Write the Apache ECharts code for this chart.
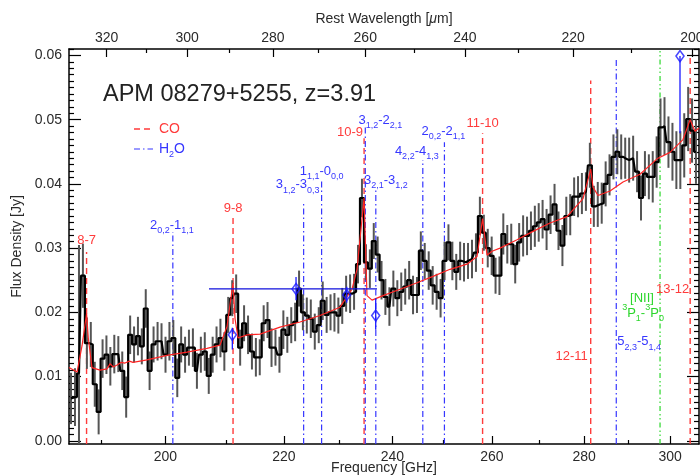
<!DOCTYPE html>
<html>
<head>
<meta charset="utf-8">
<script src="https://cdn.jsdelivr.net/npm/echarts@6/dist/echarts.min.js"></script>
<style>
  html, body { margin: 0; padding: 0; background: #fff; }
  #chart { width: 700px; height: 475px; }
</style>
</head>
<body>
<div id="chart"></div>
<script>
// ---- data ----
// channel frequencies [GHz]
var freq = [
  185.41, 186.00, 186.60, 187.19, 187.79, 188.38, 188.98, 189.57, 190.17, 190.76,
  191.36, 191.97, 192.59, 193.20, 193.81, 194.43, 195.04, 195.65, 196.26, 196.88,
  197.49, 198.12, 198.76, 199.39, 200.03, 200.66, 201.29, 201.93, 202.56, 203.20,
  203.83, 204.48, 205.14, 205.79, 206.44, 207.10, 207.75, 208.40, 209.05, 209.71,
  210.36, 211.04, 211.71, 212.39, 213.06, 213.74, 214.41, 215.09, 215.76, 216.44,
  217.11, 217.81, 218.50, 219.20, 219.89, 220.59, 221.29, 221.98, 222.68, 223.37,
  224.07, 224.79, 225.51, 226.23, 226.95, 227.67, 228.38, 229.10, 229.82, 230.54,
  231.26, 232.00, 232.74, 233.48, 234.22, 234.97, 235.71, 236.45, 237.19, 237.93,
  238.67, 239.44, 240.20, 240.97, 241.73, 242.50, 243.27, 244.03, 244.80, 245.56,
  246.33, 247.12, 247.91, 248.70, 249.49, 250.28, 251.07, 251.86, 252.65, 253.44,
  254.23, 255.05, 255.86, 256.68, 257.49, 258.31, 259.12, 259.94, 260.75, 261.57,
  262.38, 263.22, 264.06, 264.90, 265.74, 266.59, 267.43, 268.27, 269.11, 269.95,
  270.79, 271.66, 272.53, 273.40, 274.27, 275.14, 276.00, 276.87, 277.74, 278.61,
  279.48, 280.38, 281.27, 282.17, 283.06, 283.96, 284.86, 285.75, 286.65, 287.54,
  288.44, 289.37, 290.29, 291.22, 292.14, 293.07, 293.99, 294.92, 295.84, 296.77,
  297.69, 298.65, 299.60, 300.56, 301.51, 302.47, 303.42, 304.38, 305.33, 306.29
];
// flux density [Jy]
var flux = [
  0.0066, 0.0068, 0.0105, 0.0257, 0.0152, 0.0150, 0.0088, 0.0045, 0.0128, 0.0134,
  0.0116, 0.0135, 0.0135, 0.0109, 0.0068, 0.0165, 0.0150, 0.0163, 0.0147, 0.0206,
  0.0109, 0.0150, 0.0155, 0.0155, 0.0134, 0.0155, 0.0160, 0.0098, 0.0150, 0.0134,
  0.0145, 0.0145, 0.0109, 0.0134, 0.0139, 0.0101, 0.0134, 0.0150, 0.0160, 0.0139,
  0.0196, 0.0222, 0.0229, 0.0145, 0.0183, 0.0165, 0.0139, 0.0130, 0.0130, 0.0183,
  0.0188, 0.0145, 0.0145, 0.0134, 0.0173, 0.0165, 0.0180, 0.0185, 0.0237, 0.0200,
  0.0195, 0.0190, 0.0170, 0.0180, 0.0218, 0.0196, 0.0200, 0.0200, 0.0195, 0.0210,
  0.0229, 0.0229, 0.0232, 0.0275, 0.0378, 0.0278, 0.0268, 0.0311, 0.0290, 0.0250,
  0.0224, 0.0209, 0.0237, 0.0222, 0.0232, 0.0240, 0.0250, 0.0227, 0.0227, 0.0296,
  0.0280, 0.0265, 0.0242, 0.0232, 0.0222, 0.0280, 0.0309, 0.0280, 0.0263, 0.0280,
  0.0278, 0.0280, 0.0283, 0.0293, 0.0350, 0.0324, 0.0300, 0.0288, 0.0257, 0.0257,
  0.0322, 0.0306, 0.0306, 0.0275, 0.0309, 0.0319, 0.0319, 0.0327, 0.0334, 0.0340,
  0.0345, 0.0329, 0.0352, 0.0368, 0.0327, 0.0304, 0.0350, 0.0352, 0.0380, 0.0380,
  0.0385, 0.0388, 0.0429, 0.0365, 0.0368, 0.0370, 0.0400, 0.0414, 0.0442, 0.0450,
  0.0442, 0.0440, 0.0437, 0.0440, 0.0419, 0.0378, 0.0416, 0.0411, 0.0411, 0.0434,
  0.0488, 0.0490, 0.0465, 0.0450, 0.0437, 0.0437, 0.0460, 0.0501, 0.0483, 0.0450
];
// 1-sigma errors [Jy]
var fluxErr = [
  0.0040, 0.0045, 0.0200, 0.0050, 0.0040, 0.0035, 0.0035, 0.0035, 0.0030, 0.0030,
  0.0030, 0.0030, 0.0028, 0.0030, 0.0032, 0.0030, 0.0028, 0.0030, 0.0028, 0.0030,
  0.0030, 0.0028, 0.0030, 0.0028, 0.0028, 0.0030, 0.0028, 0.0030, 0.0028, 0.0028,
  0.0028, 0.0030, 0.0028, 0.0028, 0.0030, 0.0028, 0.0028, 0.0028, 0.0030, 0.0030,
  0.0028, 0.0028, 0.0030, 0.0028, 0.0028, 0.0030, 0.0028, 0.0030, 0.0028, 0.0028,
  0.0028, 0.0030, 0.0028, 0.0028, 0.0030, 0.0028, 0.0028, 0.0030, 0.0028, 0.0028,
  0.0028, 0.0030, 0.0028, 0.0028, 0.0030, 0.0028, 0.0028, 0.0030, 0.0028, 0.0028,
  0.0028, 0.0030, 0.0028, 0.0030, 0.0030, 0.0028, 0.0030, 0.0028, 0.0028, 0.0030,
  0.0028, 0.0030, 0.0028, 0.0028, 0.0030, 0.0028, 0.0030, 0.0030, 0.0028, 0.0030,
  0.0028, 0.0030, 0.0030, 0.0028, 0.0030, 0.0030, 0.0028, 0.0030, 0.0028, 0.0030,
  0.0030, 0.0028, 0.0030, 0.0030, 0.0030, 0.0028, 0.0030, 0.0030, 0.0028, 0.0030,
  0.0032, 0.0030, 0.0032, 0.0030, 0.0030, 0.0032, 0.0030, 0.0030, 0.0032, 0.0030,
  0.0030, 0.0032, 0.0030, 0.0032, 0.0030, 0.0032, 0.0030, 0.0032, 0.0030, 0.0032,
  0.0032, 0.0030, 0.0035, 0.0032, 0.0035, 0.0032, 0.0035, 0.0032, 0.0035, 0.0035,
  0.0035, 0.0032, 0.0035, 0.0035, 0.0032, 0.0035, 0.0035, 0.0035, 0.0040, 0.0040,
  0.0045, 0.0045, 0.0040, 0.0045, 0.0045, 0.0045, 0.0050, 0.0050, 0.0050, 0.0050
];
// model spectrum (red)
var modelFreq = [185.11, 186.31, 187.06, 187.74, 188.0, 188.56, 189.78, 190.85, 191.31, 191.8,
  192.39, 193.0, 193.63, 194.3, 194.88, 197.08, 200.27, 203.52, 206.81, 208.98,
  210.16, 211.18, 211.52, 212.03, 213.56, 215.81, 219.30, 222.85, 226.46, 230.13,
  230.68, 232.36, 233.29, 234.62, 235.17, 236.12, 238.22, 241.49, 244.81, 247.98,
  251.39, 254.84, 256.90, 258.05, 258.97, 260.01, 261.69, 265.29, 268.72, 272.41,
  276.16, 279.73, 281.46, 281.98, 283.12, 285.86, 288.86, 292.83, 296.86, 299.97,
  303.12, 304.87, 306.06, 307.04];
var modelFlux = [0.0114, 0.0107, 0.0148, 0.0198, 0.0160, 0.0114, 0.0110, 0.0112, 0.0120, 0.0115,
  0.0118, 0.0122, 0.0121, 0.0124, 0.0122, 0.0126, 0.0133, 0.0138, 0.0144, 0.0149,
  0.0178, 0.0246, 0.0190, 0.0160, 0.0165, 0.0166, 0.0177, 0.0185, 0.0195, 0.0208,
  0.0215, 0.0236, 0.0267, 0.0378, 0.0226, 0.0219, 0.0226, 0.0236, 0.0246, 0.0256,
  0.0267, 0.0275, 0.0287, 0.0346, 0.0289, 0.0295, 0.0300, 0.0313, 0.0326, 0.0339,
  0.0349, 0.0377, 0.0423, 0.0395, 0.0382, 0.0389, 0.0403, 0.0415, 0.0439, 0.0449,
  0.0469, 0.0500, 0.0482, 0.0487];
// blue diamonds with error bars
var diaFreq = [211.06, 222.14, 231.37, 236.82, 302.39];
var diaFlux = [0.0165, 0.02364, 0.0227, 0.0195, 0.0599];
var diaLo = [0.0142, 0.0219, 0.0215, 0.0173, 0.0479];
var diaHi = [0.0176, 0.0255, 0.0240, 0.0222, 0.0599];
var diaFreqLo = [null, 207.14, null, null, null];
var diaFreqHi = [null, 237.07, null, null, null];
// identified lines
var lineSpecies = ['CO', 'CO', 'CO', 'CO', 'CO', 'CO',
  'H2O', 'H2O', 'H2O', 'H2O', 'H2O', 'H2O', 'H2O', 'H2O', 'NII'];
var lineFreq = [187.74, 211.18, 234.62, 258.05, 281.46, 304.87,
  201.21, 223.50, 226.75, 234.85, 236.84, 245.95, 250.26, 287.30, 297.58];
var lineTop = [0.0294, 0.0347, 0.0471, 0.0479, 0.0561, 0.0597,
  0.0325, 0.0372, 0.0407, 0.0488, 0.0393, 0.0437, 0.0465, 0.0593, 0.0611];
var labelText = ['8-7', '9-8', '10-9', '11-10', '12-11', '13-12',
  '2_{0,2}-1_{1,1}', '3_{1,2}-3_{0,3}', '1_{1,1}-0_{0,0}', '3_{1,2}-2_{2,1}',
  '3_{2,1}-3_{1,2}', '4_{2,2}-4_{1,3}', '2_{0,2}-2_{1,1}', '5_{2,3}-5_{1,4}',
  '[NII]', '^3P_1-^3P_0'];
var labelLine = [0, 1, 2, 3, 4, 5, 6, 7, 8, 9, 10, 11, 12, 13, 14, 14];
// ticks
var yMajorTicks = [0, 0.01, 0.02, 0.03, 0.04, 0.05, 0.06];
var freqMajorTicks = [200, 220, 240, 260, 280, 300];
var freqMinorTicks = [190, 210, 230, 250, 270, 290];
var lamMajorTicks = [320, 300, 280, 260, 240, 220, 200];
var lamMinorTicks = [310, 290, 270, 250, 230, 210];
var redshift = 3.91;

// ---- layout / style ----
var FONT = '"Liberation Sans", Arial, Helvetica, sans-serif';
var yMin = -0.0005, yMax = 0.061;
var xMin = 185.11, xMax = 307.04;
var cz = 299792.458 / (1 + redshift);   // rest wavelength [um] = cz / nu_obs
var lamLo = cz / xMax, lamHi = cz / xMin;
var colors = { CO: '#ff3b3b', H2O: '#3636ff', NII: '#2bd62b' };
var dashes = { CO: [6, 4], H2O: [6, 3, 1.5, 3], NII: [5, 3, 1.5, 2.5, 1.5, 3] };
var labelLayout = [
  { dx: 0, dy: -12 }, { dx: 0, dy: -9 }, { dx: -14, dy: -6 }, { dx: 0, dy: -10 },
  { at: 0.0131, dx: -3, align: 'right' }, { at: 0.0236, dx: -1, align: 'right' },
  { dx: -1, dy: -7 }, { dx: -6, dy: -17 }, { dx: 0, dy: -8 }, { dx: 15, dy: -7 },
  { dx: 10, dy: -8 }, { dx: -6, dy: -9 }, { dx: -1, dy: -11 },
  { at: 0.0154, dx: 1, align: 'left' },
  { at: 0.0222, dx: -18 }, { at: 0.0199, dx: -17 }
];

var yMinorTicks = [];
for (var t = 0; t <= 61; t++) { if (t % 10) yMinorTicks.push(t / 1000); }

function toRich(s) {
  var out = '', re = /_\{([^}]*)\}|_(.)|\^(.)|([^_^]+)/g, m;
  while ((m = re.exec(s))) {
    if (m[1] != null) out += '{s|' + m[1] + '}';
    else if (m[2] != null) out += '{s|' + m[2] + '}';
    else if (m[3] != null) out += '{p|' + m[3] + '}';
    else out += '{n|' + m[4] + '}';
  }
  return out;
}
function richFor(color, size) {
  size = size || 13;
  return {
    n: { fill: color, fontSize: size, fontFamily: FONT, lineHeight: 20, verticalAlign: 'middle' },
    s: { fill: color, fontSize: 9, fontFamily: FONT, lineHeight: 9, verticalAlign: 'bottom' },
    p: { fill: color, fontSize: 9, fontFamily: FONT, lineHeight: 9, verticalAlign: 'top' }
  };
}
function ln(v) { return Math.log(v); }

var chart = echarts.init(document.getElementById('chart'));

var axisLineStyle = { color: '#000', width: 1.5 };
var tickStyle = { color: '#000', width: 1.2 };
var labelStyle = { fontSize: 14, color: '#2a2a2a', fontFamily: FONT };

function tickAxis(opt) {
  return Object.assign({
    type: 'value', splitLine: { show: false },
    axisLine: { show: false, onZero: false },
    axisLabel: { show: false }
  }, opt);
}

var option = {
  animation: false,
  grid: { left: 69, right: 1, top: 49, bottom: 31, containLabel: false, outerBoundsMode: 'none' },
  xAxis: [
    { type: 'log', position: 'bottom', min: xMin, max: xMax,
      axisLine: { show: true, onZero: false, lineStyle: axisLineStyle },
      axisTick: { show: false }, axisLabel: { show: false }, splitLine: { show: false },
      minorTick: { show: false },
      name: 'Frequency [GHz]', nameLocation: 'middle', nameGap: 17,
      nameTextStyle: { fontSize: 14, color: '#2a2a2a', fontFamily: FONT } },
    tickAxis({ position: 'bottom', min: ln(xMin), max: ln(xMax),
      axisTick: { show: true, inside: true, length: 8, lineStyle: tickStyle, customValues: freqMajorTicks.map(ln) },
      axisLabel: Object.assign({ show: true, margin: 6, customValues: freqMajorTicks.map(ln),
        formatter: function (v) { return String(Math.round(Math.exp(v))); } }, labelStyle) }),
    tickAxis({ position: 'bottom', min: ln(xMin), max: ln(xMax),
      axisTick: { show: true, inside: true, length: 4, lineStyle: tickStyle, customValues: freqMinorTicks.map(ln) } }),
    tickAxis({ position: 'top', inverse: true, min: ln(lamLo), max: ln(lamHi),
      axisLine: { show: true, onZero: false, lineStyle: axisLineStyle },
      axisTick: { show: true, inside: true, length: 8, lineStyle: tickStyle, customValues: lamMajorTicks.map(ln) },
      axisLabel: Object.assign({ show: true, margin: 4, customValues: lamMajorTicks.map(ln),
        formatter: function (v) { return String(Math.round(Math.exp(v))); } }, labelStyle),
      name: 'Rest Wavelength [{i|\u03bc}m]', nameLocation: 'middle', nameGap: 22,
      nameTextStyle: { fontSize: 14, color: '#2a2a2a', fontFamily: FONT,
        rich: { i: { fontStyle: 'italic', fontSize: 14, color: '#2a2a2a', fontFamily: FONT } } } }),
    tickAxis({ position: 'top', inverse: true, min: ln(lamLo), max: ln(lamHi),
      axisTick: { show: true, inside: true, length: 4, lineStyle: tickStyle, customValues: lamMinorTicks.map(ln) } })
  ],
  yAxis: [
    { type: 'value', position: 'left', min: yMin, max: yMax, splitLine: { show: false },
      axisLine: { show: true, onZero: false, lineStyle: axisLineStyle },
      axisTick: { show: true, inside: true, length: 12, lineStyle: tickStyle, customValues: yMajorTicks },
      axisLabel: Object.assign({ margin: 7, customValues: yMajorTicks,
        formatter: function (v) { return v.toFixed(2); } }, labelStyle),
      name: 'Flux Density [Jy]', nameLocation: 'middle', nameGap: 44,
      nameTextStyle: { fontSize: 14, color: '#2a2a2a', fontFamily: FONT } },
    tickAxis({ position: 'left', min: yMin, max: yMax,
      axisTick: { show: true, inside: true, length: 5, lineStyle: tickStyle, customValues: yMinorTicks } }),
    tickAxis({ position: 'right', min: yMin, max: yMax,
      axisLine: { show: true, onZero: false, lineStyle: axisLineStyle },
      axisTick: { show: true, inside: true, length: 12, lineStyle: tickStyle, customValues: yMajorTicks } }),
    tickAxis({ position: 'right', min: yMin, max: yMax,
      axisTick: { show: true, inside: true, length: 5, lineStyle: tickStyle, customValues: yMinorTicks } })
  ],
  graphic: [
    { type: 'text', x: 103, y: 95, z: 100,
      style: { text: 'APM 08279+5255, z=3.91', fill: '#222', font: '23.5px ' + FONT, verticalAlign: 'middle' } },
    { type: 'line', z: 100, shape: { x1: 134, y1: 129, x2: 153, y2: 129 },
      style: { stroke: colors.CO, lineWidth: 1.4, lineDash: dashes.CO } },
    { type: 'text', x: 159, y: 129, z: 100,
      style: { text: 'CO', fill: colors.CO, font: '14px ' + FONT, verticalAlign: 'middle' } },
    { type: 'line', z: 100, shape: { x1: 134, y1: 149, x2: 153, y2: 149 },
      style: { stroke: colors.H2O, lineWidth: 1.2, lineDash: dashes.H2O } },
    { type: 'text', x: 159, y: 149, z: 100,
      style: { text: toRich('H_2O'), rich: richFor(colors.H2O, 14), verticalAlign: 'middle' } }
  ],
  series: [
    { name: 'lines', type: 'custom', z: 1, clip: true, silent: true,
      data: lineFreq.map(function (f, i) { return [f, lineTop[i]]; }),
      renderItem: function (params, api) {
        var sp = lineSpecies[params.dataIndex];
        var p0 = api.coord([api.value(0), yMin]);
        var p1 = api.coord([api.value(0), api.value(1)]);
        return { type: 'line', shape: { x1: p0[0], y1: p0[1], x2: p1[0], y2: p1[1] },
          style: { stroke: colors[sp], lineWidth: sp === 'CO' ? 1.4 : 1.2, lineDash: dashes[sp] } };
      } },
    { name: 'errors', type: 'custom', z: 2, clip: true, silent: true,
      data: freq.map(function (f, i) { return [f, flux[i] - fluxErr[i], flux[i] + fluxErr[i]]; }),
      renderItem: function (params, api) {
        var p0 = api.coord([api.value(0), api.value(1)]);
        var p1 = api.coord([api.value(0), api.value(2)]);
        return { type: 'line', shape: { x1: p0[0], y1: p0[1], x2: p1[0], y2: p1[1] },
          style: { stroke: '#555', lineWidth: 2 } };
      } },
    { name: 'spectrum', type: 'line', z: 3, step: 'middle', showSymbol: false, silent: true,
      data: freq.map(function (f, i) { return [f, flux[i]]; }),
      lineStyle: { color: '#000', width: 2.2 } },
    { name: 'model', type: 'line', z: 4, showSymbol: false, silent: true,
      data: modelFreq.map(function (f, i) { return [f, modelFlux[i]]; }),
      lineStyle: { color: '#ff2424', width: 1.2 } },
    { name: 'diaErr', type: 'custom', z: 5, clip: true, silent: true,
      data: diaFreq.map(function (f, i) { return [f, diaLo[i], diaHi[i]]; }),
      renderItem: function (params, api) {
        var i = params.dataIndex;
        var p0 = api.coord([api.value(0), api.value(1)]);
        var p1 = api.coord([api.value(0), api.value(2)]);
        var kids = [{ type: 'line', shape: { x1: p0[0], y1: p0[1], x2: p1[0], y2: p1[1] },
          style: { stroke: '#1a1aff', lineWidth: 1.3 } }];
        if (diaFreqLo[i] != null) {
          var h0 = api.coord([diaFreqLo[i], diaFlux[i]]);
          var h1 = api.coord([diaFreqHi[i], diaFlux[i]]);
          kids.push({ type: 'line', shape: { x1: h0[0], y1: h0[1], x2: h1[0], y2: h1[1] },
            style: { stroke: '#1010dd', lineWidth: 1.3 } });
        }
        return { type: 'group', children: kids };
      } },
    { name: 'diamonds', type: 'scatter', z: 6, silent: true, symbol: 'diamond', symbolSize: [8, 11],
      data: diaFreq.map(function (f, i) { return [f, diaFlux[i]]; }),
      itemStyle: { color: 'rgba(0,0,0,0)', borderColor: '#1a1aff', borderWidth: 1.6 } },
    { name: 'labels', type: 'custom', z: 7, silent: true,
      data: labelLine.map(function (li) { return [lineFreq[li], lineTop[li]]; }),
      renderItem: function (params, api) {
        var i = params.dataIndex, L = labelLayout[i];
        var col = colors[lineSpecies[labelLine[i]]];
        var p = api.coord([api.value(0), L.at != null ? L.at : api.value(1)]);
        var y = L.at != null ? p[1] : p[1] + L.dy;
        return { type: 'text', x: p[0] + L.dx, y: y,
          style: { text: toRich(labelText[i]), rich: richFor(col, 13),
            align: L.align || 'center', verticalAlign: 'middle' } };
      } }
  ]
};
chart.setOption(option);
</script>
</body>
</html>
